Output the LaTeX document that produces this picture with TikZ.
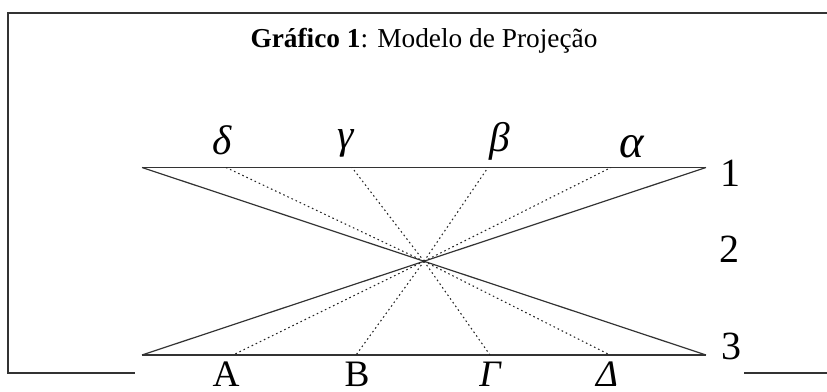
\documentclass[tikz,border=0pt]{standalone}
\usepackage{fontspec}
\setmainfont{Liberation Serif}
\begin{document}
\begin{tikzpicture}[x=0.75pt,y=-0.75pt,
  frame/.style={line width=1.1pt,draw=black!80},
  solid line/.style={line width=0.9pt,draw=black!80},
  proj/.style={line width=0.8pt,dash pattern=on 1.2pt off 2.2pt,draw=black!85},
  greek/.style={font=\fontsize{31}{32}\selectfont\itshape,inner sep=0pt},
  lab/.style={font=\fontsize{30}{32}\selectfont,inner sep=0pt},
  blab/.style={font=\fontsize{28}{30}\selectfont,inner sep=0pt,anchor=base}]
\useasboundingbox (0,0) rectangle (827,392);
% frame
\draw[frame] (827,13) -- (8,13) -- (8,373) -- (135,373);
\draw[frame] (744,373) -- (827,373);
% title
\node[font=\fontsize{20.5}{22}\selectfont] (title) at (424,41) {\textbf{Gráfico 1}: Modelo de Projeção};
% main points
\coordinate (TL) at (142,167.5);
\coordinate (TR) at (706,167.5);
\coordinate (BL) at (142,355);
\coordinate (BR) at (706,355);
\coordinate (O) at (424,261.25);
\coordinate (pd) at (226,167.5);
\coordinate (pg) at (352,167.5);
\coordinate (pb) at (488,167.5);
\coordinate (pa) at (611,167.5);
\coordinate (pA) at (233,355);
\coordinate (pB) at (356,355);
\coordinate (pG) at (490,355);
\coordinate (pD) at (610,355);
% solid lines
\draw[solid line] (TL) -- (TR);
\draw[solid line] (BL) -- (BR);
\draw[solid line] (TL) -- (BR);
\draw[solid line] (TR) -- (BL);
% projection lines
\foreach \p in {pd,pg,pb,pa,pA,pB,pG,pD}
  \draw[proj] (O) -- (\p);
% labels
\node[greek] (ld) at (222,140) {δ};
\node[greek] (lg) at (346,143) {γ};
\node[greek] (lb) at (500,141) {β};
\node[greek,font=\fontsize{35}{36}\selectfont\itshape] (la) at (632,147) {α};
\node[lab] (l1) at (730,173) {1};
\node[lab] (l2) at (729,249) {2};
\node[lab] (l3) at (731,346) {3};
\node[blab] (lA) at (226,386) {A};
\node[blab] (lB) at (357,386) {B};
\node[blab,font=\fontsize{28}{30}\selectfont\itshape] (lG) at (490,386) {Γ};
\node[blab,font=\fontsize{28}{30}\selectfont\itshape] (lD) at (607,386) {Δ};
\end{tikzpicture}
\end{document}
